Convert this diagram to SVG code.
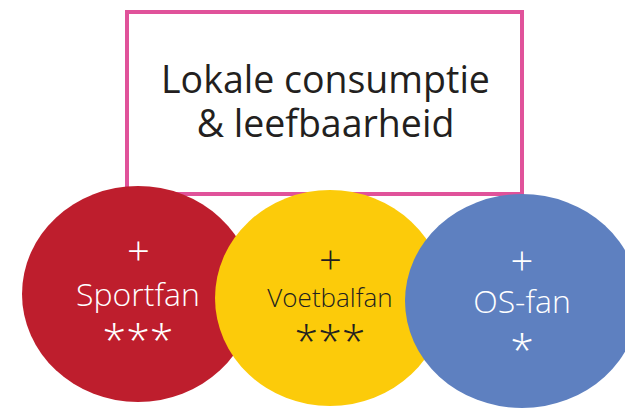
<svg xmlns="http://www.w3.org/2000/svg" width="625" height="408" viewBox="0 0 625 408">
<style>
.t{font-family:"Open Sans","Noto Sans","Liberation Sans",sans-serif;text-anchor:middle}
.lt{font-weight:300}
.w{fill:#ffffff}
.d{fill:#231f20}
.p{font-size:40px}
.s{font-size:43px}
</style>
<rect x="0" y="0" width="625" height="408" fill="#ffffff"/>
<g id="title">
<rect x="127" y="12" width="395" height="182" fill="#ffffff" stroke="#e0529a" stroke-width="4"/>
<text class="t d" x="325.5" y="93" font-size="37.5">Lokale consumptie</text>
<text class="t d" x="325.5" y="137" font-size="37.5">&amp; leefbaarheid</text>
</g>
<g id="connectors"></g>
<g id="sportfan">
<ellipse cx="138" cy="294" rx="116" ry="108" fill="#be1e2d"/>
<text class="t lt w p" x="138.5" y="264.5">+</text>
<text class="t lt w" x="138" y="306" font-size="32">Sportfan</text>
<text class="t lt w s" x="138" y="355">***</text>
</g>
<g id="voetbalfan">
<ellipse cx="330" cy="298" rx="115" ry="108" fill="#fccb0a"/>
<text class="t lt d p" x="330.5" y="273.5">+</text>
<text class="t lt d" x="330" y="307" font-size="26">Voetbalfan</text>
<text class="t lt d s" x="330" y="356">***</text>
</g>
<g id="osfan">
<ellipse cx="522" cy="301" rx="117" ry="107" fill="#5e80c0"/>
<text class="t lt w p" x="522" y="275">+</text>
<text class="t lt w" x="522" y="313" font-size="32">OS-fan</text>
<text class="t lt w s" x="522" y="365">*</text>
</g>
</svg>
